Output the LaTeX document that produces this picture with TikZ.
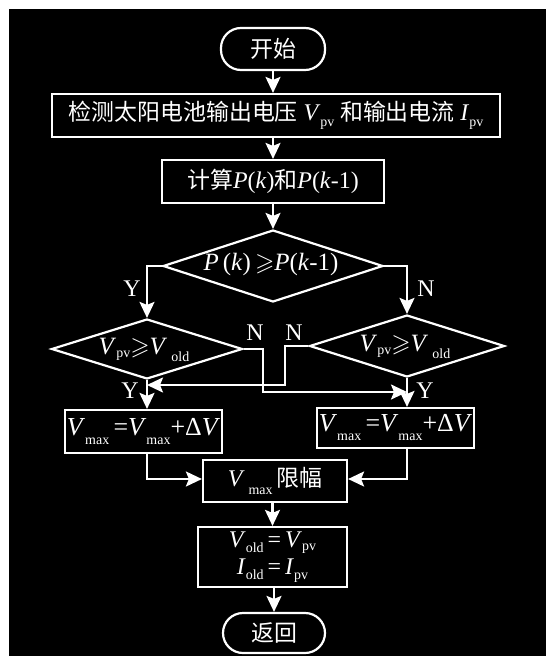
\documentclass[tikz,border=0pt]{standalone}
\usepackage{fontspec}
\usepackage{amssymb}
\setmainfont{Liberation Serif}
\newfontfamily\cjk{Noto Sans CJK SC}
\usetikzlibrary{shapes.geometric,arrows.meta,calc}
\newcommand\lo[2]{\raisebox{-#1bp}{\fontsize{14}{14}\selectfont #2}}
\newcommand\bigsym[1]{{\fontsize{24}{26}\selectfont #1}}
\begin{document}
\begin{tikzpicture}[x=1bp,y=-1bp,
  every node/.style={text=white, font=\fontsize{23}{27}\selectfont},
  ln/.style={draw=white, line width=2.2bp},
  boxn/.style={ln, rectangle, inner sep=0pt},
  term/.style={ln, rectangle, rounded corners=20bp, inner sep=0pt},
  diam/.style={ln, diamond, inner sep=0pt},
  arr/.style={white, line width=2.2bp, -{Stealth[length=16bp,width=15bp,inset=3bp]}},
  lbl/.style={inner sep=0pt}
]
\useasboundingbox (0,0) rectangle (553,656);
\fill[white] (0,0) rectangle (553,656);
\fill[black] (9,9) rectangle (546,656);

% nodes
\node[term, minimum width=104bp, minimum height=42bp] (start) at (273,49) {{\cjk 开始}};
\node[boxn, minimum width=448bp, minimum height=43bp] (b1) at (276,115.5)
  {{\cjk 检测太阳电池输出电压} \bigsym{\textit{V}}\lo{6}{pv} {\cjk 和输出电流} \bigsym{\textit{I}}\lo{6}{pv}};
\node[boxn, minimum width=222bp, minimum height=43bp] (b2) at (273,181.5)
  {{\cjk 计算}\bigsym{\textit{P}(\textit{k})}{\cjk 和}\bigsym{\textit{P}(\textit{k}-1)}};
\node[diam, minimum width=220bp, minimum height=72bp] (d1) at (273,266) {};
\node[lbl, font=\fontsize{25}{27}\selectfont] (t1) at (271,265)
  {\textit{P}\,(\textit{k})\,$\geqslant$\textit{P}(\textit{k}-1)};

\node[diam, minimum width=191bp, minimum height=60bp] (d2) at (147,349) {};
\node[lbl, font=\fontsize{25}{27}\selectfont] (t2) at (144,350)
  {\textit{V}\lo{3}{pv}$\geqslant$\textit{V}\,\lo{7}{old}};
\node[diam, minimum width=195bp, minimum height=62bp] (d3) at (407,346) {};
\node[lbl, font=\fontsize{25}{27}\selectfont] (t3) at (405,347)
  {\textit{V}\lo{3}{pv}$\geqslant$\textit{V}\,\lo{7}{old}};

\node[boxn, minimum width=157bp, minimum height=43bp, font=\fontsize{26}{28}\selectfont] (lb) at (143.5,431.5)
  {\textit{V}\lo{9}{max}\,=\textit{V}\lo{9}{max}+Δ\textit{V}};
\node[boxn, minimum width=157bp, minimum height=40bp, font=\fontsize{26}{28}\selectfont] (rb) at (395.5,428)
  {\textit{V}\lo{9}{max}\,=\textit{V}\lo{9}{max}+Δ\textit{V}};
\node[boxn, minimum width=144bp, minimum height=42bp] (lim) at (275,481)
  {\bigsym{\textit{V}}\,\lo{8}{max}\,{\cjk 限幅}};
\node[boxn, minimum width=149bp, minimum height=60bp, align=center, font=\fontsize{24}{27}\selectfont] (b3) at (272.5,557)
  {\textit{V}\lo{5}{old}\,=\,\textit{V}\lo{3}{pv}\\ \textit{I}\lo{5}{old}\,=\,\textit{I}\lo{5}{pv}};
\node[term, minimum width=102bp, minimum height=40bp] (ret) at (274,633) {{\cjk 返回}};

% labels
\node[lbl, font=\fontsize{24}{26}\selectfont] (y1) at (132,289) {Y};
\node[lbl, font=\fontsize{24}{26}\selectfont] (n1) at (426,289) {N};
\node[lbl, font=\fontsize{24}{26}\selectfont] (n2) at (255,333) {N};
\node[lbl, font=\fontsize{24}{26}\selectfont] (n3) at (294,333) {N};
\node[lbl, font=\fontsize{24}{26}\selectfont] (y2) at (130,391) {Y};
\node[lbl, font=\fontsize{24}{26}\selectfont] (y3) at (425,391) {Y};

% coordinates
\coordinate (jl) at (263,392);
\coordinate (jr) at (285,385);
\coordinate (ml) at (147,479);
\coordinate (mr) at (407,479);

% connectors
\draw[arr] (start.south) -- (start.south |- b1.north);
\draw[arr] (b1.south -| b2.north) -- (b2.north);
\draw[arr] (b2.south) -- (d1.north);
\draw[arr] (d1.west) -| (d2.north);
\draw[arr] (d1.east) -| (d3.north);
\draw[arr] (d2.east) -| (jl) -- (jl -| d3.south);
\draw[arr] (d3.west) -| (jr) -- (jr -| d2.south);
\draw[arr] (d2.south) -- (d2.south |- lb.north);
\draw[arr] (d3.south) -- (d3.south |- rb.north);
\draw[arr] (lb.south -| ml) -- (ml) -- (ml -| lim.west);
\draw[arr] (rb.south -| mr) -- (mr) -- (mr -| lim.east);
\draw[arr] (lim.south -| b3.north) -- (b3.north);
\draw[arr] (b3.south -| ret.north) -- (ret.north);
\end{tikzpicture}
\end{document}
